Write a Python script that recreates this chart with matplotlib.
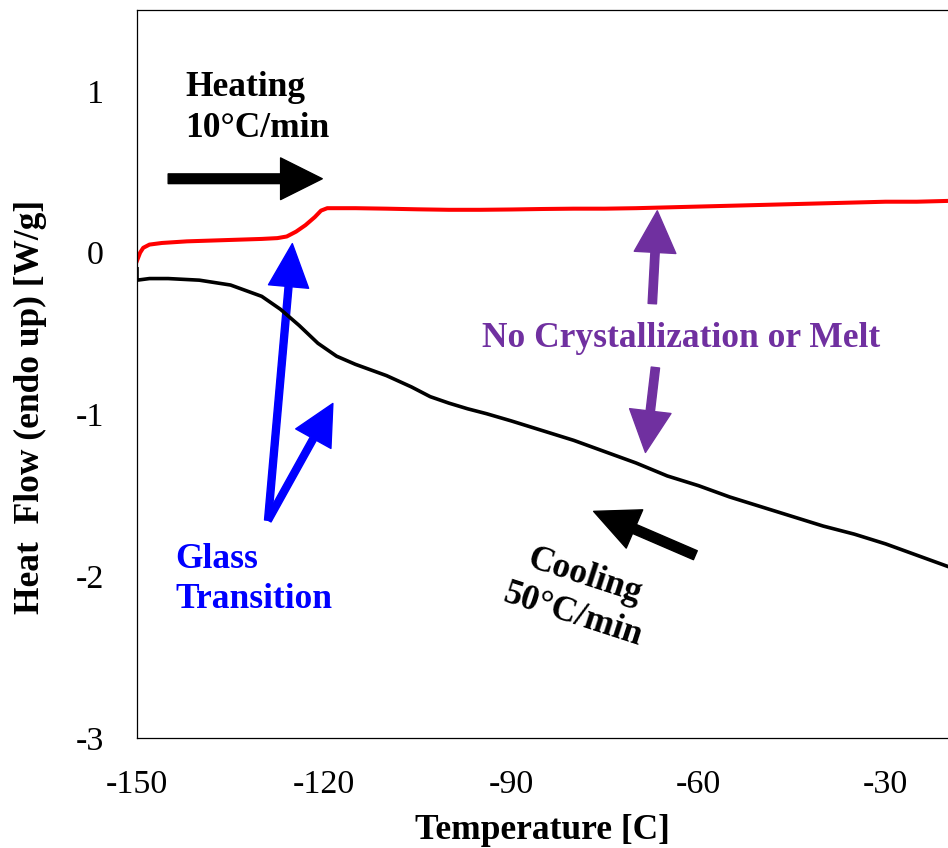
import matplotlib
matplotlib.use('Agg')
import matplotlib.pyplot as plt
from matplotlib.patches import FancyArrowPatch

plt.rcParams['font.family'] = ['Liberation Serif', 'DejaVu Serif']
plt.rcParams['axes.unicode_minus'] = False

# DSC traces: heating (10 C/min) and cooling (50 C/min)
heat_T = [-150, -149.5, -149, -148, -146, -142, -138, -134, -130, -127.5, -126, -124.5, -123, -121.5, -120.5,
          -119.5, -115, -110, -105, -100, -95, -90, -85, -80, -75, -70, -65, -60, -55, -50, -45, -40, -35, -30, -25, -20]
heat_Q = [-0.05, 0.0, 0.03, 0.05, 0.06, 0.07, 0.075, 0.08, 0.085, 0.09, 0.10, 0.13, 0.17, 0.22, 0.26,
          0.275, 0.275, 0.272, 0.268, 0.265, 0.265, 0.267, 0.27, 0.272, 0.272, 0.275, 0.28, 0.285, 0.29, 0.295, 0.30, 0.305, 0.31, 0.315, 0.315, 0.32]

cool_T = [-150, -150, -148, -145, -140, -135, -130, -127, -124, -121, -118, -115, -110, -106, -103, -100, -97, -94, -90,
          -85, -80, -75, -70, -65, -60, -55, -50, -45, -40, -35, -30, -25, -20]
cool_Q = [-0.10, -0.17, -0.16, -0.16, -0.17, -0.20, -0.27, -0.35, -0.45, -0.56, -0.64, -0.69, -0.76, -0.83, -0.89, -0.93, -0.965, -0.995, -1.04,
          -1.10, -1.16, -1.23, -1.30, -1.38, -1.44, -1.51, -1.57, -1.63, -1.69, -1.74, -1.80, -1.87, -1.94]

x_ticks = [-150, -120, -90, -60, -30]
y_ticks = [-3, -2, -1, 0, 1]

fig = plt.figure(figsize=(9.48, 8.48), dpi=100)
ax = fig.add_axes([0.1445, 0.1297, 0.8555, 0.8585])

ax.plot(heat_T, heat_Q, color='#ff0000', lw=2.9, solid_joinstyle='round')
ax.plot(cool_T, cool_Q, color='black', lw=2.6, solid_joinstyle='round')

ax.set_xlim(-150, -20)
ax.set_ylim(-3, 1.5)
ax.set_xticks(x_ticks)
ax.set_yticks(y_ticks)
ax.tick_params(length=0, labelsize=24.5)
ax.tick_params(axis='x', pad=23)
ax.tick_params(axis='y', pad=24)
ax.spines['right'].set_visible(False)
for s in ['left', 'bottom', 'top']:
    ax.spines[s].set_linewidth(0.9)

ax.set_xlabel('Temperature [C]', fontsize=25.5, fontweight='bold', labelpad=10)
ax.set_ylabel('Heat  Flow (endo up) [W/g]', fontsize=25.5, fontweight='bold')
ax.yaxis.set_label_coords(-0.111, 0.455)


def arrow(tail, tip, color, tw, hw, hl):
    style = f'simple,head_length={hl},head_width={hw},tail_width={tw}'
    ax.add_patch(FancyArrowPatch(tail, tip, arrowstyle=style, color=color,
                                 shrinkA=0, shrinkB=0, mutation_scale=1))


# heating direction
arrow((-145.0, 0.457), (-120.3, 0.457), 'black', 7, 30, 30)
ax.text(-142.3, 0.895, 'Heating\n10°C/min', fontsize=25.5, fontweight='bold',
        ha='left', va='center', linespacing=1.3)

# glass transition
arrow((-129.0, -1.654), (-125.1, 0.056), '#0000ff', 5, 29, 31)
arrow((-129.0, -1.654), (-118.6, -0.932), '#0000ff', 5, 29, 29)
ax.text(-143.9, -2.02, 'Glass\nTransition', fontsize=25.5, fontweight='bold', color='#0000ff',
        ha='left', va='center', linespacing=1.3)

# no crystallization
purple = '#7030a0'
arrow((-67.4, -0.315), (-66.6, 0.259), purple, 6, 30, 30)
arrow((-66.9, -0.71), (-68.5, -1.235), purple, 6, 30, 30)
ax.text(-62.7, -0.53, 'No Crystallization or Melt', fontsize=25.5, fontweight='bold', color=purple,
        ha='center', va='center')

# cooling direction
arrow((-60.5, -1.870), (-76.8, -1.599), 'black', 7, 30, 32)
ax.text(-79.2, -2.12, 'Cooling\n50°C/min', fontsize=25.5, fontweight='bold', rotation=-18,
        ha='center', va='center', multialignment='center', linespacing=1.3,
        rotation_mode='anchor')

fig.savefig('out.png', dpi=100)
